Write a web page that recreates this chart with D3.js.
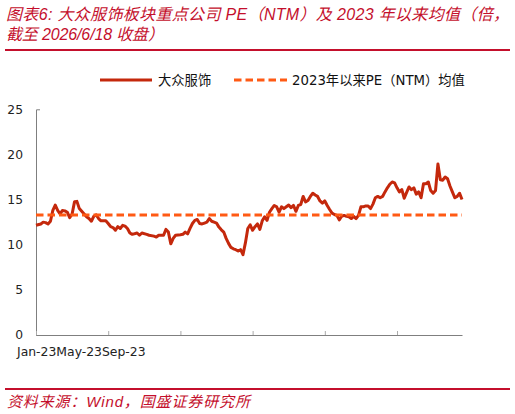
<!DOCTYPE html>
<html><head><meta charset="utf-8">
<script src="https://cdn.jsdelivr.net/npm/d3@7/dist/d3.min.js"></script>
<style>body{margin:0;background:#fff}</style>
</head><body><svg id="c" width="515" height="414"></svg>
<script>
// ---- data ----
const weeks = [0,2,3,4,5,6,7,8,9,10,11,12,13,14,15,16,17,18,20,21,22,23,24,25,26,27,29,30,31,32,33,34,35,36,37,38,39,40,42,43,44,46,47,49,50,51,53,54,55,56,57,58,60,61,62,63,64,65,66,67,68,69,70,71,72,73,74,75,76,77,78,79,80,81,82,83,84,85,86,87,88,89,90,91,92,93,94,95,96,97,98,99,100,101,102,103,104,105,106,107,108,109,110,111,112,113,114,115,116,117,118,119,120,121,122,123,124,125,126,127,128,129,130,131,132,133,134,135,136,137,138,139,140,141,142,143,144,145,146,147,148,149,150,151,152,153,154,155,156,157,158,159,160,161,162,163,164,165,166,167,168,169,170,171,172,173,174,175,176,177];
const pe = [12.15,12.3,12.5,12.45,12.3,12.6,13.8,14.4,13.8,13.4,13.8,13.75,13.6,13.0,13.4,14.75,14.8,14.0,13.4,13.1,12.9,12.6,13.15,13.3,12.9,12.65,12.65,12.35,12.0,11.9,11.6,12.0,11.8,12.15,12.05,11.8,11.3,11.15,11.3,11.05,11.3,11.15,11.05,10.95,10.85,11.05,11.05,11.7,11.4,10.1,10.7,11.05,11.1,11.15,11.4,11.2,11.8,12.35,12.7,12.8,12.35,12.3,12.4,12.5,12.9,12.6,12.5,12.4,11.95,11.65,11.4,10.7,10.15,9.7,9.55,9.45,9.3,9.45,8.9,10.2,11.8,12.2,11.6,12.0,12.3,11.7,12.65,13.1,12.7,13.6,14.0,14.35,14.2,13.6,14.2,14.0,14.2,14.4,14.1,14.35,13.7,14.35,14.45,15.35,14.75,14.9,15.35,15.7,15.5,15.35,14.85,14.6,14.85,14.35,13.9,13.5,13.35,13.25,12.75,13.15,13.25,13.15,13.1,12.9,13.15,12.9,13.25,14.2,14.2,14.3,14.3,14.0,14.5,15.2,15.35,15.2,15.35,15.85,16.3,16.7,16.95,16.85,16.3,15.85,16.1,15.15,15.8,16.4,16.1,16.3,15.6,15.85,15.2,16.75,16.75,16.95,16.0,15.7,16.0,18.95,17.2,17.15,17.5,17.3,16.5,15.85,15.2,15.35,15.7,15.0];
const meanPE = 13.3;
const yTicks = [0,5,10,15,20,25];
const xTickIdx = [0,30,60,90,120,150];
const xLabels = ["Jan-23","May-23","Sep-23"];
const seriesNames = ["大众服饰","2023年以来PE（NTM）均值"];
const titleLines = ["图表6:  大众服饰板块重点公司 PE（NTM）及 2023 年以来均值（倍，","截至 2026/6/18 收盘）"];
const sourceText = "资料来源：Wind，国盛证券研究所";

// ---- chart ----
const svg = d3.select("#c");
const RED = "#c40f2c", LINE = "#c4280c", DASH = "#ff5a14";
const x = d3.scaleLinear().domain([0,177]).range([36,462]);
const y = d3.scaleLinear().domain([0,25]).range([335,109.3]);
const titleLen = [503, 158];

// title
svg.selectAll("text.title").data(titleLines).join("text")
  .attr("class","title").attr("x",6).attr("y",(d,i)=>20+i*20)
  .attr("fill",RED).attr("font-size",16).attr("font-style","italic")
  .attr("font-family","'Liberation Sans','Noto Sans CJK SC',sans-serif")
  .attr("textLength",(d,i)=>titleLen[i]).attr("lengthAdjust","spacing")
  .text(d=>d);
svg.append("line").attr("x1",5).attr("x2",510).attr("y1",50).attr("y2",50).attr("stroke",RED).attr("stroke-width",2);
svg.append("line").attr("x1",5).attr("x2",510).attr("y1",389).attr("y2",389).attr("stroke",RED).attr("stroke-width",2);
svg.append("text").attr("x",7).attr("y",407).attr("fill",RED).attr("font-size",15).attr("font-style","italic")
  .attr("textLength",243).attr("lengthAdjust","spacing")
  .attr("font-family","'Liberation Sans','Noto Sans CJK SC',sans-serif").text(sourceText);

// legend
const lg = svg.append("g");
lg.append("line").attr("x1",100).attr("x2",152).attr("y1",80).attr("y2",80).attr("stroke",LINE).attr("stroke-width",3);
lg.append("text").attr("x",158).attr("y",84.5).text(seriesNames[0]);
lg.append("line").attr("x1",234).attr("x2",287).attr("y1",80).attr("y2",80).attr("stroke",DASH).attr("stroke-width",3).attr("stroke-dasharray","7.5,4");
lg.append("text").attr("x",292).attr("y",84.5).text(seriesNames[1]);
lg.selectAll("text").attr("font-size",13.3).attr("fill","#111").attr("font-family","'DejaVu Sans','Noto Sans CJK SC',sans-serif");

// axes
const ya = svg.append("g").attr("transform","translate(36,0)")
  .call(d3.axisLeft(y).tickValues(yTicks).tickSizeInner(0).tickSizeOuter(-4).tickPadding(13));
ya.select(".domain").attr("stroke","#7f7f7f");
ya.selectAll("text").attr("font-size",12.3).attr("fill","#222").attr("font-family","'DejaVu Sans',sans-serif");

const xa = svg.append("g").attr("transform","translate(0,335)")
  .call(d3.axisBottom(x).tickValues(xTickIdx).tickSizeInner(-4).tickSizeOuter(0).tickFormat(""));
xa.select(".domain").attr("stroke","#7f7f7f");
xa.selectAll(".tick line").attr("stroke","#aaa");

// x labels placed side by side
let cx = 17;
svg.selectAll("text.xl").data(xLabels).join("text").attr("class","xl")
  .attr("y",356).attr("font-size",12.4).attr("fill","#222").attr("font-family","'DejaVu Sans',sans-serif")
  .text(d=>d)
  .each(function(){ d3.select(this).attr("x",cx); cx += this.getComputedTextLength(); });

// series
const data = weeks.map((w,i)=>({w, v:pe[i]}));
svg.append("path").datum(data)
  .attr("fill","none").attr("stroke",LINE).attr("stroke-width",3).attr("stroke-linejoin","round")
  .attr("d", d3.line().x(d=>x(d.w)).y(d=>y(d.v)));
svg.append("line").attr("x1",x(0)).attr("x2",x(177)).attr("y1",y(meanPE)).attr("y2",y(meanPE))
  .attr("stroke",DASH).attr("stroke-width",3).attr("stroke-dasharray","7.5,4");
</script></body></html>
